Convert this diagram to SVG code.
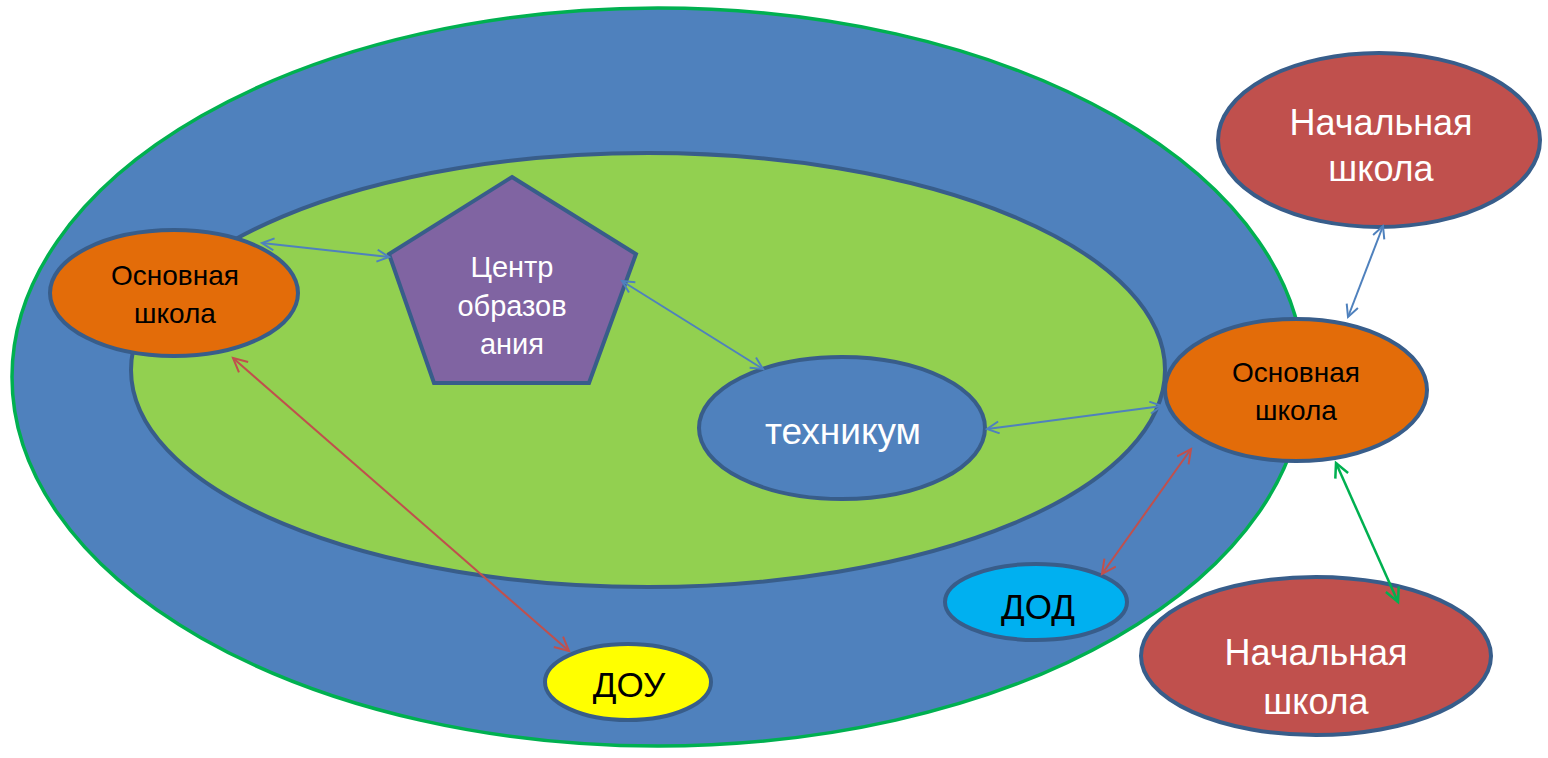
<svg xmlns="http://www.w3.org/2000/svg" width="1548" height="758" viewBox="0 0 1548 758">
<style>
.sh{stroke:#385D8A;stroke-width:4}
.t{font-family:"Liberation Sans",Arial,sans-serif;text-anchor:middle}
.w{fill:#FFFFFF}
.b{fill:#000000}
.cb{fill:none;stroke:#4F81BD;stroke-width:2}
.cr{fill:none;stroke:#C0504D;stroke-width:2}
.cg{fill:none;stroke:#00B050;stroke-width:2.5}
</style>
<defs>
<marker id="mb" markerUnits="userSpaceOnUse" markerWidth="16" markerHeight="16" refX="13" refY="7" orient="auto-start-reverse"><path d="M1,1 L13,7 L1,13" fill="none" stroke="#4F81BD" stroke-width="2"/></marker>
<marker id="mr" markerUnits="userSpaceOnUse" markerWidth="18" markerHeight="18" refX="15" refY="8" orient="auto-start-reverse"><path d="M1,1 L15,8 L1,15" fill="none" stroke="#C0504D" stroke-width="2"/></marker>
<marker id="mg" markerUnits="userSpaceOnUse" markerWidth="18" markerHeight="18" refX="15" refY="8" orient="auto-start-reverse"><path d="M1,1 L15,8 L1,15" fill="none" stroke="#00B050" stroke-width="2.5"/></marker>
</defs>
<rect width="1548" height="758" fill="#FFFFFF"/>
<g id="outer"><ellipse cx="658" cy="377" rx="646" ry="369" fill="#4F81BD" stroke="#00B050" stroke-width="3.5"/></g>
<g id="inner"><ellipse cx="648" cy="370" rx="517" ry="217" fill="#92D050" class="sh"/></g>
<g id="osn-left">
<ellipse cx="174" cy="293" rx="124" ry="63" fill="#E36C09" class="sh"/>
<text class="t b" x="175" y="285" font-size="28">Основная</text>
<text class="t b" x="175" y="323" font-size="28">школа</text>
</g>
<g id="centr">
<polygon points="512,177 636,254 589,383 434,383 389,254" fill="#8064A2" class="sh"/>
<text class="t w" x="512" y="277" font-size="29">Центр</text>
<text class="t w" x="512" y="316" font-size="29">образов</text>
<text class="t w" x="512" y="354" font-size="29">ания</text>
</g>
<g id="tekhnikum">
<ellipse cx="842" cy="428" rx="143" ry="71" fill="#4F81BD" class="sh"/>
<text class="t w" x="843" y="444" font-size="37">техникум</text>
</g>
<g id="osn-right">
<ellipse cx="1296" cy="390" rx="131" ry="71" fill="#E36C09" class="sh"/>
<text class="t b" x="1296" y="382" font-size="28">Основная</text>
<text class="t b" x="1296" y="420" font-size="28">школа</text>
</g>
<g id="nach-top">
<ellipse cx="1379" cy="140" rx="161" ry="87" fill="#C0504D" class="sh"/>
<text class="t w" x="1381" y="135" font-size="36">Начальная</text>
<text class="t w" x="1381" y="181" font-size="36">школа</text>
</g>
<g id="nach-bottom">
<ellipse cx="1316" cy="656" rx="175" ry="79" fill="#C0504D" class="sh"/>
<text class="t w" x="1316" y="665" font-size="36">Начальная</text>
<text class="t w" x="1316" y="714" font-size="36">школа</text>
</g>
<g id="dod">
<ellipse cx="1036" cy="602" rx="91" ry="38" fill="#00B0F0" class="sh"/>
<text class="t b" x="1038" y="619" font-size="35">ДОД</text>
</g>
<g id="dou">
<ellipse cx="628" cy="682" rx="83" ry="38" fill="#FFFF00" class="sh"/>
<text class="t b" x="629" y="697" font-size="35">ДОУ</text>
</g>
<g id="connectors">
<line x1="262" y1="243" x2="389" y2="257" class="cb" marker-start="url(#mb)" marker-end="url(#mb)"/>
<line x1="622" y1="281" x2="763" y2="369" class="cb" marker-start="url(#mb)" marker-end="url(#mb)"/>
<line x1="987" y1="429" x2="1162" y2="406" class="cb" marker-start="url(#mb)" marker-end="url(#mb)"/>
<line x1="1383" y1="226" x2="1348" y2="317" class="cb" marker-start="url(#mb)" marker-end="url(#mb)"/>
<line x1="1336" y1="463" x2="1398" y2="602" class="cg" marker-start="url(#mg)" marker-end="url(#mg)"/>
<line x1="233" y1="358" x2="569" y2="651" class="cr" marker-start="url(#mr)" marker-end="url(#mr)"/>
<line x1="1191" y1="449" x2="1102" y2="574" class="cr" marker-start="url(#mr)" marker-end="url(#mr)"/>
</g>
</svg>
